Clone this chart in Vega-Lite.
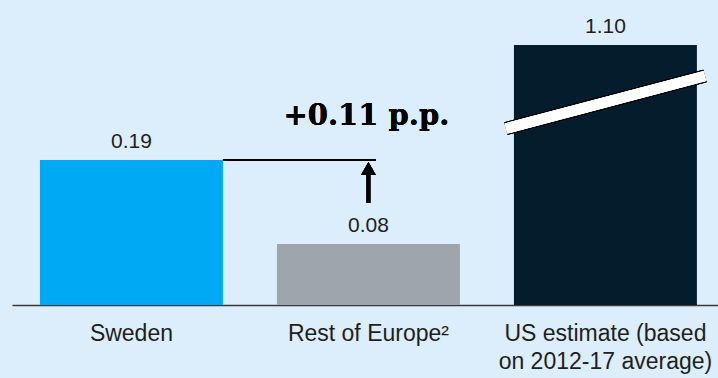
{
  "$schema": "https://vega.github.io/schema/vega-lite/v6.json",
  "width": 706,
  "height": 305,
  "autosize": {"type": "none"},
  "padding": {"left": 12, "top": 0, "right": 0, "bottom": 73},
  "background": "#dcedfb",
  "config": {"view": {"stroke": null}, "font": "Liberation Sans"},
  "data": {
    "values": [
      {"region": "Sweden", "rate": 0.19},
      {"region": "Rest of Europe²", "rate": 0.08},
      {"region": "US estimate (based on 2012-17 average)", "rate": 1.10}
    ]
  },
  "encoding": {
    "x": {
      "field": "region",
      "type": "nominal",
      "sort": null,
      "title": null,
      "scale": {"paddingInner": 0.228, "paddingOuter": 0.1035, "align": 0.57},
      "axis": {
        "domain": true,
        "domainColor": "#3a3a3a",
        "domainWidth": 1.5,
        "ticks": false,
        "tickSize": 0,
        "grid": false,
        "labelAngle": 0,
        "labelPadding": 17,
        "labelFont": "Liberation Sans",
        "labelFontSize": 23,
        "labelColor": "#1e1e1e",
        "labelLineHeight": 28,
        "labelLimit": 400,
        "labelOverlap": false,
        "labelExpr": "datum.value == 'US estimate (based on 2012-17 average)' ? ['US estimate (based', 'on 2012-17 average)'] : datum.label"
      }
    }
  },
  "layer": [
    {
      "mark": {"type": "bar"},
      "encoding": {
        "y": {
          "field": "rate",
          "type": "quantitative",
          "axis": null,
          "scale": {"domain": [0, 0.2, 1.1], "range": [305, 152.4, 45], "nice": false}
        },
        "color": {
          "field": "region",
          "type": "nominal",
          "legend": null,
          "scale": {
            "domain": ["Sweden", "Rest of Europe²", "US estimate (based on 2012-17 average)"],
            "range": ["#00a9f4", "#9ea5ad", "#051c2c"]
          }
        }
      }
    },
    {
      "mark": {"type": "text", "baseline": "alphabetic", "dy": -12, "fontSize": 21, "color": "#1e1e1e", "font": "Liberation Sans"},
      "encoding": {
        "y": {"field": "rate", "type": "quantitative"},
        "text": {"field": "rate", "type": "quantitative", "format": ".2f"}
      }
    },
    {
      "description": "level line from the top of the Sweden bar",
      "mark": {"type": "rule", "color": "#000000", "strokeWidth": 2, "xOffset": 91.5, "x2Offset": 7.5},
      "encoding": {
        "x": {"datum": "Sweden", "type": "nominal"},
        "x2": {"datum": "Rest of Europe²"},
        "y": {"datum": 0.19, "type": "quantitative"}
      }
    },
    {
      "description": "arrow shaft",
      "mark": {"type": "rule", "color": "#000000", "strokeWidth": 4, "yOffset": -41, "y2Offset": 14},
      "encoding": {
        "x": {"datum": "Rest of Europe²", "type": "nominal"},
        "y": {"datum": 0.08, "type": "quantitative"},
        "y2": {"datum": 0.19}
      }
    },
    {
      "description": "arrow head",
      "mark": {"type": "point", "shape": "triangle-up", "filled": true, "color": "#000000", "opacity": 1, "size": 225, "strokeWidth": 0, "yOffset": 8.5},
      "encoding": {
        "x": {"datum": "Rest of Europe²", "type": "nominal"},
        "y": {"datum": 0.19, "type": "quantitative"}
      }
    },
    {
      "mark": {"type": "text", "text": "+0.11 p.p.", "font": "DejaVu Serif", "fontWeight": "bold", "fontSize": 29, "color": "#000000", "baseline": "alphabetic", "dy": -35, "dx": -2},
      "encoding": {
        "x": {"datum": "Rest of Europe²", "type": "nominal"},
        "y": {"datum": 0.19, "type": "quantitative"}
      }
    },
    {
      "description": "axis break across the US bar: dark edge",
      "mark": {"type": "rule", "color": "#000000", "strokeWidth": 13, "strokeCap": "butt", "xOffset": -99.5, "x2Offset": 99.5},
      "encoding": {
        "x": {"datum": "US estimate (based on 2012-17 average)", "type": "nominal"},
        "x2": {"datum": "US estimate (based on 2012-17 average)"},
        "y": {"datum": 0.40, "type": "quantitative"},
        "y2": {"datum": 0.84}
      }
    },
    {
      "description": "axis break across the US bar: white gap",
      "mark": {"type": "rule", "color": "#ffffff", "strokeWidth": 10.5, "strokeCap": "butt", "xOffset": -99.5, "x2Offset": 99.5},
      "encoding": {
        "x": {"datum": "US estimate (based on 2012-17 average)", "type": "nominal"},
        "x2": {"datum": "US estimate (based on 2012-17 average)"},
        "y": {"datum": 0.40, "type": "quantitative"},
        "y2": {"datum": 0.84}
      }
    }
  ]
}
